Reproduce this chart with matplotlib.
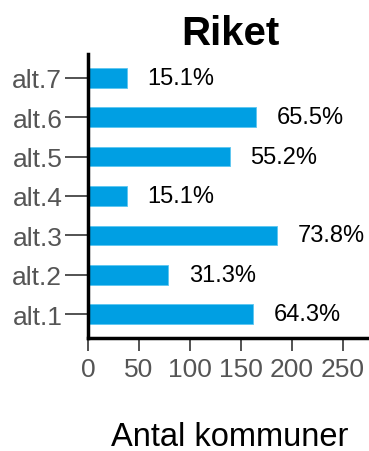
import matplotlib
matplotlib.use('Agg')
import matplotlib.pyplot as plt

plt.rcParams['font.family'] = ['Liberation Sans', 'DejaVu Sans']

kategorier = ['alt.1', 'alt.2', 'alt.3', 'alt.4', 'alt.5', 'alt.6', 'alt.7']
antal = [162, 79, 186, 38, 139, 165, 38]
andel = ['64.3%', '31.3%', '73.8%', '15.1%', '55.2%', '65.5%', '15.1%']
xticks = [0, 50, 100, 150, 200, 250]

fig = plt.figure(figsize=(3.69, 4.52), dpi=100)
ax = fig.add_axes([88 / 369, 1 - 339 / 452, 1 - 88 / 369, (339 - 55) / 452])

pos = list(range(len(kategorier)))
ax.barh(pos, antal, height=0.5, color='#009fe3', edgecolor='#5cc6f0', linewidth=0.6)

for p, v, t in zip(pos, antal, andel):
    ax.text(v + 20, p, t, va='center', ha='left', fontsize=17, color='black')

ax.set_xlim(0, 276)
ax.set_ylim(-0.6, 6.6)
ax.set_yticks(pos)
ax.set_yticklabels(kategorier)
ax.set_xticks(xticks)

for s in ['top', 'right']:
    ax.spines[s].set_visible(False)
ax.spines['left'].set_linewidth(2.5)
ax.spines['bottom'].set_linewidth(2.5)

ax.tick_params(axis='y', length=16.5, width=1.3, color='#444444', labelcolor='#555555',
               labelsize=19, pad=2)
ax.tick_params(axis='x', length=9.5, width=1.3, color='#444444', labelcolor='#555555',
               labelsize=19, pad=4)

fig.text(0.623, 1 - 45 / 452, 'Riket', ha='center', va='baseline', fontsize=29, fontweight='bold')
fig.text(0.623, 1 - 446 / 452, 'Antal kommuner', ha='center', va='baseline', fontsize=23.5)

fig.savefig('out.png', dpi=100)
